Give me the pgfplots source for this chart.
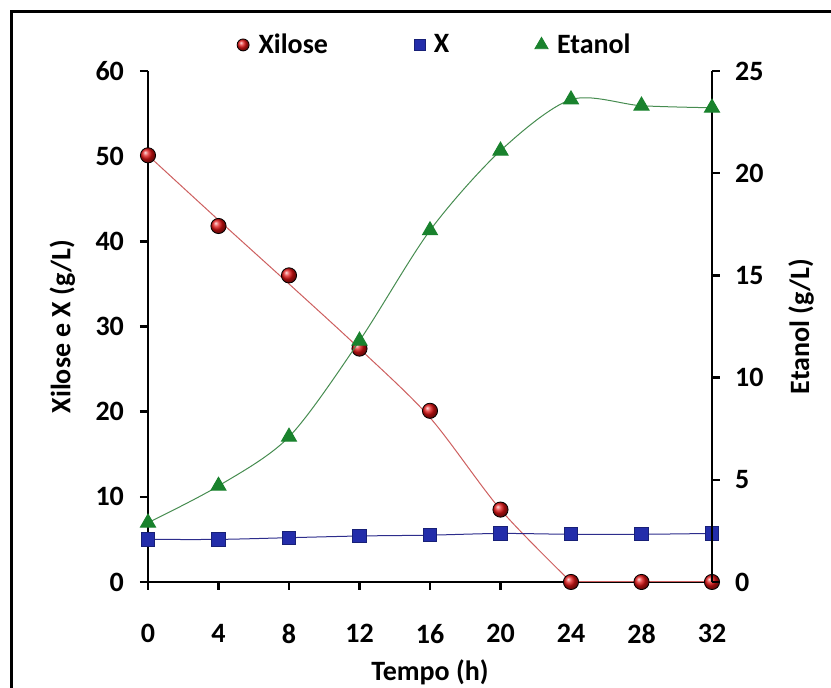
\documentclass[border=0pt]{standalone}
\usepackage{fontspec}
\setmainfont{Carlito}
\usepackage{pgfplots}
\pgfplotsset{compat=1.18}

\definecolor{xilred}{RGB}{225,20,20}
\definecolor{xilline}{RGB}{205,95,95}
\definecolor{xblue}{RGB}{35,45,170}
\definecolor{xline}{RGB}{45,45,140}
\definecolor{etgreen}{RGB}{25,130,45}
\definecolor{etline}{RGB}{70,140,80}

\newcommand{\chartfont}{\fontsize{14}{16}\selectfont\bfseries}

\pgfplotsset{
  common/.style={
    scale only axis, width=282pt, height=255.5pt,
    at={(74pt,53pt)}, anchor=south west,
    xmin=0, xmax=32, xtick={0,4,...,32},
    tick align=outside, major tick length=4pt,
    axis line style={line width=1.2pt},
    every tick/.style={line width=1.2pt, black},
    ticklabel style={font=\chartfont},
    /pgf/number format/assume math mode=true,
    label style={font=\chartfont},
    clip=false,
  },
  legmark/.style={legend image code/.code={\draw[##1] plot coordinates {(0pt,0pt)};}},
}

\begin{document}
\begin{tikzpicture}
% Xilose and biomass on the left axis
\begin{axis}[common,
  axis x line*=bottom, axis y line*=left,
  ymin=0, ymax=60, ytick={0,10,...,60},
  xticklabel shift=13.5pt, yticklabel shift=4.5pt,
  xlabel={Tempo (h)},
  xlabel style={at={(axis description cs:0.5,-0.176)}, anchor=center},
  ylabel={Xilose e X (g/L)},
  ylabel style={at={(axis description cs:-0.152,0.5)}, anchor=center},
]
% fitted xylose consumption curve
\addplot[color=xilline, line width=0.5pt, smooth]
  coordinates {(0,50.1) (4,42.5) (8,35.0) (12,27.4) (16,19.3) (20,8.5) (24,0)};
\addplot[color=xilline, line width=0.5pt]
  coordinates {(24,0) (32,0)};
% measured xylose
\addplot[only marks, mark=ball, mark size=3.8pt, mark options={ball color=xilred}]
  coordinates {(0,50.1) (4,41.8) (8,36.0) (12,27.4) (16,20.1) (20,8.5) (24,0) (28,0) (32,0)};
% biomass
\addplot[color=xline, line width=0.5pt, smooth, mark=square*, mark size=3.3pt,
  mark options={fill=xblue, draw=xblue!70!black, line width=0.4pt}]
  coordinates {(0,5.0) (4,5.0) (8,5.2) (12,5.4) (16,5.5) (20,5.7) (24,5.6) (28,5.6) (32,5.7)};
\end{axis}
% Ethanol on the right axis
\begin{axis}[common,
  axis x line=none, axis y line*=right,
  ymin=0, ymax=25, ytick={0,5,...,25},
  yticklabel shift=4pt,
  ylabel={Etanol (g/L)},
  ylabel style={at={(axis description cs:1.158,0.5)}, anchor=center},
  legend columns=3,
  legend style={at={(axis description cs:0.51,1.051)}, anchor=center,
    draw=none, fill=none, font=\chartfont,
    /tikz/every even column/.append style={column sep=0pt}},
]
\addlegendimage{legmark, mark=ball, mark size=3pt, mark options={ball color=xilred}}
\addlegendentry{\makebox[78.5pt][l]{\hspace*{2.5pt}Xilose}}
\addlegendimage{legmark, mark=square*, mark size=2.6pt, mark options={fill=xblue, draw=xblue!70!black}}
\addlegendentry{\makebox[51pt][l]{\hspace*{2.5pt}X}}
\addlegendimage{legmark, mark=triangle*, mark size=3.8pt, mark options={fill=etgreen, draw=etgreen}}
\addlegendentry{\hspace*{2.5pt}Etanol}
\addplot[forget plot, color=etline, line width=0.5pt, smooth, mark=triangle*, mark size=4.3pt,
  mark options={fill=etgreen, draw=etgreen}]
  coordinates {(0,2.9) (4,4.7) (8,7.1) (12,11.8) (16,17.2) (20,21.1) (24,23.6) (28,23.3) (32,23.2)};
\end{axis}
% outer frame
\draw[line width=1.5pt] (5.5pt,-10pt) -- (5.5pt,338pt) -- (430pt,338pt);
\pgfresetboundingbox
\useasboundingbox (0,0) rectangle (415.5pt,344pt);
\end{tikzpicture}
\end{document}
